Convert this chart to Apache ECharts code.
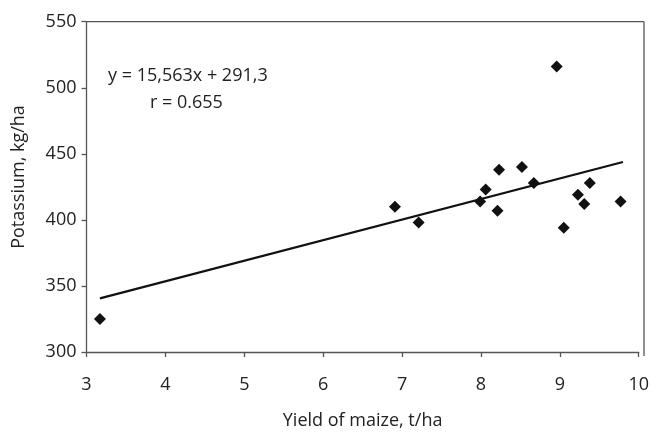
<!DOCTYPE html>
<html>
<head>
<meta charset="utf-8">
<script src="https://cdn.jsdelivr.net/npm/echarts@6/dist/echarts.min.js"></script>
<style>
    html, body { margin: 0; padding: 0; background: #fff; }
    #chart { width: 652px; height: 435px; }
</style>
</head>
<body>
<div id="chart"></div>
<script>
(function () {
    'use strict';

    // yield of maize (t/ha) vs potassium (kg/ha)
    var yieldX = [3.17, 6.91, 7.21, 7.99, 8.06, 8.21, 8.23, 8.52, 8.67, 8.96, 9.05, 9.23, 9.31, 9.38, 9.77];
    var potassiumY = [325, 410, 398, 414, 423, 407, 438, 440, 428, 516, 394, 419, 412, 428, 414];

    // regression line end points
    var trendX = [3.17, 9.8];
    var trendY = [340.6, 443.8];

    var xTicks = [3, 4, 5, 6, 7, 8, 9, 10];
    var yTicks = [300, 350, 400, 450, 500, 550];

    var fontName = 'Open Sans';
    var textColor = '#222';
    var lineColor = '#555';

    var points = yieldX.map(function (x, i) { return [x, potassiumY[i]]; });
    var trend = trendX.map(function (x, i) { return [x, trendY[i]]; });

    var myChart = echarts.init(document.getElementById('chart'), null, { renderer: 'canvas' });

    var option = {
        animation: false,
        backgroundColor: '#fff',
        grid: { left: 86.5, right: 8, top: 21.7, bottom: 79, containLabel: false },
        xAxis: {
            type: 'value',
            min: xTicks[0],
            max: xTicks[xTicks.length - 1],
            interval: 1,
            name: 'Yield of maize, t/ha',
            nameLocation: 'middle',
            nameGap: 60,
            nameTextStyle: { fontFamily: fontName, fontSize: 18, color: textColor },
            axisLine: { show: true, onZero: false, lineStyle: { color: lineColor, width: 1.3 } },
            axisTick: { show: true, length: 5, lineStyle: { color: lineColor, width: 1.3 } },
            axisLabel: { fontFamily: fontName, fontSize: 18, color: textColor, margin: 24 },
            splitLine: { show: false }
        },
        yAxis: {
            type: 'value',
            min: yTicks[0],
            max: yTicks[yTicks.length - 1],
            interval: 50,
            axisLine: { show: true, onZero: false, lineStyle: { color: lineColor, width: 1.3 } },
            axisTick: { show: true, length: 5, lineStyle: { color: lineColor, width: 1.3 } },
            axisLabel: { fontFamily: fontName, fontSize: 18, color: textColor, margin: 10 },
            splitLine: { show: false }
        },
        graphic: [
            // frame top and right edges
            { type: 'line', shape: { x1: 86.5, y1: 21.7, x2: 644, y2: 21.7 }, style: { stroke: lineColor, lineWidth: 1.3 } },
            { type: 'line', shape: { x1: 644, y1: 21.7, x2: 644, y2: 356 }, style: { stroke: lineColor, lineWidth: 1.3 } },
            // y axis title, sits a bit above the plot centre like the original
            {
                type: 'text', x: 18.5, y: 177, rotation: Math.PI / 2,
                style: { text: 'Potassium, kg/ha', font: '18px "' + fontName + '"', fill: textColor, align: 'center', verticalAlign: 'middle' }
            },
            { type: 'text', left: 108, top: 67, style: { text: 'y = 15,563x + 291,3', font: '18px "' + fontName + '"', fill: textColor } },
            { type: 'text', left: 150, top: 94, style: { text: 'r = 0.655', font: '18px "' + fontName + '"', fill: textColor } }
        ],
        series: [
            {
                name: 'trend',
                type: 'line',
                data: trend,
                symbol: 'none',
                lineStyle: { color: '#111', width: 2.3 },
                z: 2
            },
            {
                name: 'samples',
                type: 'scatter',
                data: points,
                symbol: 'diamond',
                symbolSize: 12,
                itemStyle: { color: '#111', opacity: 1 },
                z: 3
            }
        ]
    };

    myChart.setOption(option);
})();
</script>
</body>
</html>
